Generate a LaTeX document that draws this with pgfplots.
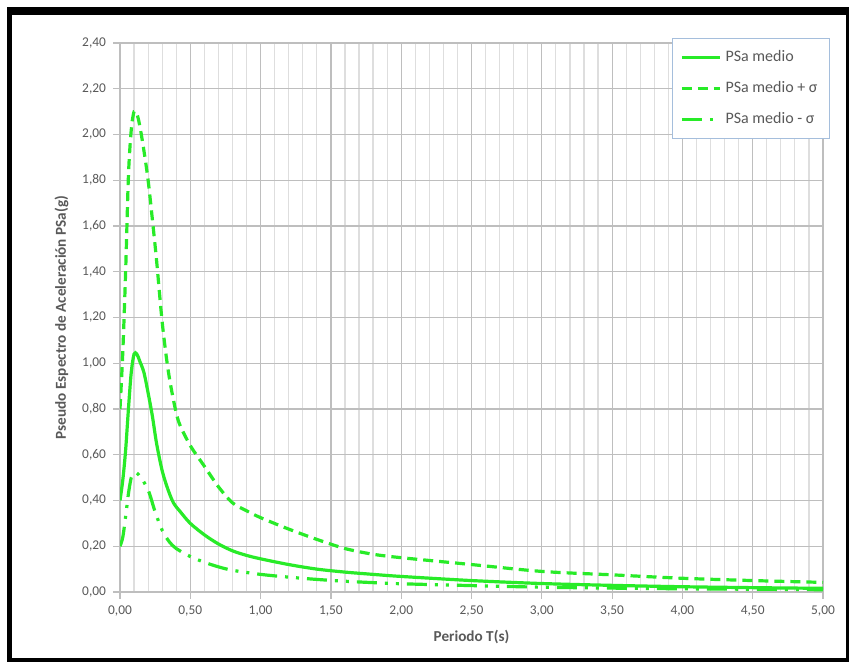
\documentclass[border=0pt]{standalone}
\usepackage{pgfplots}
\pgfplotsset{compat=1.18}
\usepackage{fontspec}
\setmainfont{Carlito}
\definecolor{lgreen}{RGB}{40,235,40}
\definecolor{tickgray}{RGB}{89,89,89}
\definecolor{gridmaj}{RGB}{190,190,190}
\definecolor{gridmin}{RGB}{222,222,222}
\definecolor{legframe}{RGB}{165,190,220}
\begin{document}
\begin{tikzpicture}
\useasboundingbox (0pt,0pt) rectangle (425pt,331pt);
\fill[white] (0pt,0pt) rectangle (425pt,331pt);
\fill[black] (3.5pt,0pt) rectangle (424.5pt,327.5pt);
\fill[white] (6pt,2pt) rectangle (423pt,323.5pt);
\begin{axis}[
  at={(60pt,35pt)}, anchor=south west,
  scale only axis, width=351.5pt, height=274.5pt,
  xmin=0, xmax=5, ymin=0, ymax=2.4,
  xtick={0,0.5,...,5}, ytick={0,0.2,...,2.4},
  minor x tick num=4,
  grid=both,
  major grid style={gridmaj, line width=0.6pt},
  minor grid style={gridmin, line width=0.6pt},
  axis lines*=left,
  axis line style={gridmaj, line width=0.8pt},
  tick align=outside,
  major tick length=3.5pt, minor tick length=0pt,
  tick style={gridmaj, line width=0.6pt},
  ticklabel style={font=\fontsize{6.7}{8}\selectfont, text=tickgray},
  /pgf/number format/.cd, fixed, fixed zerofill, precision=2, use comma, assume math mode=true,
  /pgfplots/.cd,
  xlabel={Periodo T(s)},
  ylabel={Pseudo Espectro de Aceleración PSa(g)},
  label style={font=\fontsize{7.6}{9}\selectfont\bfseries, text=tickgray},
  legend style={at={(1.01,1.01)}, anchor=north east, draw=legframe, line width=0.6pt,
    font=\fontsize{8}{9}\selectfont, text=tickgray, row sep=4.5pt, inner xsep=4pt, inner ysep=4pt},
  legend cell align=left,
  legend image code/.code={\draw[#1] (0pt,0pt) -- (19pt,0pt);},
]
\addplot[lgreen, line width=1.6pt, smooth] coordinates {
(0,0.40) (0.02,0.49) (0.04,0.62) (0.06,0.80) (0.08,0.96) (0.10,1.04) (0.12,1.04)
(0.14,1.01) (0.17,0.96) (0.20,0.87) (0.23,0.77) (0.26,0.65) (0.30,0.53) (0.34,0.45)
(0.38,0.39) (0.43,0.35) (0.50,0.30) (0.60,0.25) (0.70,0.21) (0.80,0.18) (0.90,0.16)
(1.00,0.145) (1.20,0.12) (1.40,0.10) (1.60,0.087) (1.80,0.077) (2.00,0.068) (2.50,0.05)
(3.00,0.037) (3.50,0.029) (4.00,0.023) (4.50,0.019) (5.00,0.016)};
\addlegendentry{PSa medio}
\addplot[lgreen, line width=1.6pt, smooth, dash pattern=on 5pt off 3pt] coordinates {
(0,0.80) (0.02,1.05) (0.04,1.40) (0.06,1.82) (0.08,2.02) (0.10,2.10) (0.12,2.09)
(0.14,2.04) (0.17,1.93) (0.20,1.80) (0.23,1.63) (0.26,1.45) (0.30,1.18) (0.34,0.98)
(0.38,0.84) (0.42,0.74) (0.50,0.64) (0.60,0.55) (0.70,0.46) (0.80,0.39) (0.90,0.355)
(1.00,0.325) (1.20,0.275) (1.40,0.23) (1.60,0.19) (1.80,0.165) (2.00,0.15) (2.50,0.12)
(3.00,0.09) (3.50,0.075) (4.00,0.06) (4.50,0.05) (5.00,0.042)};
\addlegendentry{PSa medio + σ}
\addplot[lgreen, line width=1.6pt, smooth, dash pattern=on 10pt off 4pt on 1.5pt off 4pt on 1.5pt off 4pt] coordinates {
(0,0.20) (0.02,0.24) (0.04,0.33) (0.06,0.43) (0.08,0.50) (0.10,0.52) (0.12,0.52)
(0.15,0.50) (0.18,0.47) (0.21,0.43) (0.25,0.35) (0.30,0.27) (0.35,0.22) (0.40,0.19)
(0.50,0.155) (0.60,0.13) (0.70,0.11) (0.80,0.095) (1.00,0.077) (1.20,0.065) (1.40,0.055)
(1.60,0.047) (1.80,0.041) (2.00,0.036) (2.50,0.028) (3.00,0.021) (3.50,0.017)
(4.00,0.014) (4.50,0.012) (5.00,0.010)};
\addlegendentry{PSa medio - σ}
\end{axis}
\end{tikzpicture}
\end{document}
